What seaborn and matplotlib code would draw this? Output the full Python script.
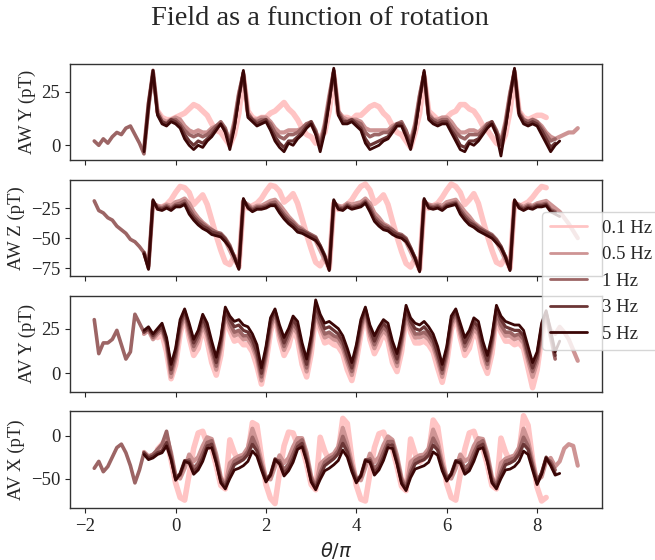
import matplotlib.pyplot as plt
import numpy as np
import pandas as pd
import seaborn as sns

STEP = 0.1
FREQS = ['0.1 Hz', '0.5 Hz', '1 Hz', '3 Hz', '5 Hz']
# first theta/pi of every recording, the rest follows every STEP
STARTS = {'0.1 Hz': -0.4, '0.5 Hz': -0.7, '1 Hz': -1.8, '3 Hz': -0.7, '5 Hz': -0.7}

# --- AW Y (pT) ---
awy_01 = [16, 13, 12, 12, 13, 14, 15, 17, 19, 18, 16, 14, 10, 7, 6, 3, 0, 5, 15,
          32, 16, 13, 12, 13, 13, 15, 16, 18, 20, 17, 15, 12, 8, 5, 4, 1, 4, 6, 16,
          33, 15, 13, 13, 12, 14, 14, 16, 18, 19, 18, 15, 13, 9, 6, 5, 2, -1, 6, 15,
          32, 16, 14, 12, 12, 13, 15, 16, 19, 19, 17, 16, 13, 9, 7, 4, 1, 0, 5, 16,
          33, 16, 13, 12, 13, 14, 14, 13]
awy_05 = [-2, 19,
          34, 16, 12, 11, 12, 13, 12, 9, 7, 6, 7, 6, 6, 8, 9, 10, 7, 2, 11, 24,
          33, 15, 12, 12, 13, 13, 11, 8, 6, 6, 7, 7, 7, 8, 10, 10, 6, 1, 10, 23,
          34, 16, 13, 12, 12, 12, 11, 8, 7, 7, 7, 7, 7, 9, 10, 10, 6, 2, 10, 23,
          33, 15, 12, 12, 13, 13, 11, 8, 6, 6, 7, 7, 6, 8, 10, 10, 6, 2, 11, 24,
          34, 16, 12, 11, 12, 11, 9, 6, 4, 3, 4, 5, 6, 6, 8]
awy_1 = [2, 0, 3, 1, 4, 6, 5, 8, 9, 5, 1, -4, 17,
         35, 15, 11, 10, 12, 12, 10, 7, 5, 4, 5, 4, 5, 7, 9, 11, 8, 1, 10, 24,
         34, 15, 12, 11, 12, 12, 10, 6, 4, 3, 5, 5, 6, 8, 10, 11, 7, 0, 9, 22,
         35, 16, 12, 11, 12, 11, 10, 6, 4, 5, 5, 6, 6, 8, 10, 11, 7, 1, 9, 23,
         34, 14, 12, 11, 12, 12, 9, 6, 4, 3, 5, 5, 5, 7, 10, 11, 7, 1, 10, 24,
         35, 15, 12, 11, 12, 11, 8, 5, 2, 3]
awy_3 = [-2, 20,
         34, 15, 11, 10, 12, 11, 9, 5, 2, 0, 2, 1, 3, 5, 8, 10, 7, 0, 9, 23,
         34, 14, 12, 10, 11, 12, 8, 4, 1, -1, 2, 2, 4, 6, 9, 11, 6, -1, 8, 21,
         35, 15, 11, 11, 12, 10, 8, 3, 0, 1, 2, 3, 4, 7, 10, 10, 5, 0, 8, 22,
         34, 13, 11, 10, 11, 11, 7, 4, 0, -1, 2, 2, 3, 6, 9, 11, 6, 0, 9, 23,
         35, 15, 11, 10, 11, 10, 7, 3, -1, 1]
awy_5 = [-3, 18,
         35, 14, 10, 9, 11, 10, 8, 3, 0, -2, 0, -1, 2, 4, 7, 10, 6, -2, 8, 22,
         35, 13, 11, 9, 10, 11, 7, 2, -1, -3, 1, 0, 3, 5, 8, 10, 5, -3, 6, 20,
         36, 14, 10, 10, 11, 9, 7, 1, -2, -1, 0, 2, 3, 6, 9, 9, 4, -2, 7, 21,
         35, 12, 10, 9, 10, 10, 6, 2, -2, -3, 1, 0, 2, 5, 8, 10, 5, -5, 8, 22,
         36, 14, 10, 9, 10, 9, 5, 1, -3, 0, 2]

# --- AW Z (pT) ---
awz_01 = [-25, -24, -22, -18, -12, -7, -8, -12, -22, -18, -14, -22, -35, -48, -60, -70, -72, -65, -74,
          -20, -25, -23, -21, -17, -11, -6, -7, -11, -20, -17, -13, -21, -34, -47, -59, -70, -73, -66, -75,
          -21, -26, -24, -22, -18, -12, -7, -5, -10, -21, -18, -14, -22, -36, -49, -61, -71, -74, -67, -76,
          -20, -25, -23, -21, -16, -10, -5, -7, -12, -22, -18, -13, -21, -35, -48, -60, -70, -72, -66, -75,
          -20, -24, -22, -20, -16, -11, -7, -8]
awz_05 = [-62, -73,
          -21, -23, -24, -22, -23, -20, -19, -17, -21, -28, -33, -37, -40, -43, -46, -48, -52, -60, -68, -73,
          -20, -22, -25, -23, -23, -21, -19, -18, -22, -27, -32, -36, -40, -42, -46, -48, -52, -60, -68, -74,
          -21, -23, -24, -21, -22, -21, -20, -17, -21, -29, -33, -38, -40, -43, -47, -49, -53, -61, -69, -75,
          -20, -22, -23, -22, -23, -20, -19, -18, -23, -28, -32, -37, -40, -43, -46, -48, -53, -60, -68, -74,
          -21, -22, -24, -22, -23, -21, -20, -19, -22, -25, -28, -33, -38, -44, -50]
awz_1 = [-19, -27, -29, -33, -35, -40, -43, -46, -51, -53, -57, -62, -75,
         -20, -24, -25, -23, -25, -22, -21, -19, -25, -31, -35, -38, -41, -43, -45, -46, -50, -56, -66, -74,
         -19, -23, -26, -24, -24, -23, -21, -20, -25, -30, -34, -37, -41, -43, -45, -47, -49, -57, -66, -75,
         -20, -24, -25, -22, -24, -23, -22, -19, -24, -32, -36, -39, -41, -43, -46, -47, -50, -58, -67, -76,
         -19, -23, -24, -23, -25, -22, -21, -20, -26, -31, -35, -38, -41, -43, -45, -47, -51, -57, -66, -75,
         -20, -23, -25, -23, -24, -22, -22, -21, -26, -28]
awz_3 = [-62, -74,
         -19, -25, -26, -24, -26, -23, -23, -21, -28, -33, -37, -40, -42, -45, -46, -47, -51, -57, -65, -75,
         -18, -24, -27, -25, -25, -24, -22, -22, -27, -32, -36, -39, -43, -44, -46, -48, -50, -56, -64, -76,
         -19, -25, -26, -23, -25, -24, -23, -20, -26, -34, -38, -41, -42, -45, -47, -48, -51, -58, -66, -77,
         -18, -24, -25, -24, -26, -23, -22, -21, -28, -33, -37, -39, -42, -44, -46, -48, -52, -57, -65, -76,
         -19, -24, -26, -24, -25, -23, -23, -22, -27, -29]
awz_5 = [-63, -76,
         -18, -26, -27, -25, -27, -24, -24, -22, -30, -35, -39, -42, -44, -47, -48, -49, -53, -58, -66, -76,
         -17, -25, -28, -26, -26, -25, -23, -23, -29, -34, -38, -41, -45, -46, -48, -50, -52, -57, -65, -77,
         -18, -26, -27, -24, -26, -25, -24, -21, -28, -36, -40, -43, -44, -47, -49, -50, -53, -59, -67, -78,
         -17, -25, -26, -25, -27, -24, -23, -22, -30, -35, -39, -41, -44, -46, -48, -50, -54, -58, -66, -77,
         -18, -25, -27, -25, -26, -24, -24, -23, -28, -30, -32]

# --- AV Y (pT) ---
avy_01 = [20, 22, 12,
          -3, 5, 22, 33, 20, 10, 14, 26, 18, 6, -1, 10, 32, 24, 18, 19, 16, 16, 12, 4,
          -6, 6, 23, 33, 19, 10, 15, 25, 19, 5, -2, 11, 33, 24, 17, 18, 16, 15, 11, 2,
          -4, 7, 22, 34, 19, 11, 16, 23, 18, 6, 1, 12, 32, 23, 17, 17, 18, 16, 12, 3,
          -5, 6, 24, 33, 20, 10, 14, 24, 19, 6, 0, 11, 32, 23, 18, 18, 16, 17, 14, 3,
          -8, 2, 20, 31]
avy_05 = [22, 24, 19, 22, 24, 16,
          -2, 8, 24, 33, 22, 13, 18, 27, 21, 11, 2, 14, 33, 26, 21, 22, 19, 19, 15, 8,
          -4, 9, 25, 33, 21, 13, 19, 26, 22, 10, 1, 15, 34, 26, 20, 21, 19, 18, 14, 6,
          -1, 10, 24, 34, 21, 14, 20, 24, 21, 11, 4, 16, 32, 25, 20, 20, 21, 19, 15, 7,
          -2, 9, 26, 33, 22, 13, 18, 25, 22, 11, 3, 15, 32, 25, 21, 21, 19, 20, 17, 7,
          -2, 6, 22, 32, 24, 22, 26, 23, 19, 13, 7]
avy_1 = [30, 11, 17, 17, 19, 24, 16, 8, 12, 33, 28, 23, 25, 20, 23, 25, 17,
         0, 10, 26, 34, 24, 15, 20, 29, 23, 13, 4, 16, 34, 28, 23, 24, 21, 21, 17, 10,
         -2, 11, 27, 34, 23, 15, 21, 28, 24, 12, 3, 17, 35, 28, 22, 23, 21, 20, 16, 8,
         1, 12, 26, 35, 23, 16, 22, 26, 23, 13, 6, 18, 34, 27, 22, 22, 23, 21, 17, 9,
         0, 11, 28, 34, 24, 15, 20, 27, 24, 13, 5, 17, 34, 27, 23, 23, 21, 22, 19, 9,
         1, 8, 24, 33, 20, 8]
avy_3 = [23, 25, 21, 24, 26, 18,
         2, 12, 28, 35, 26, 17, 22, 31, 25, 15, 6, 18, 35, 30, 26, 27, 24, 23, 19, 12,
         0, 13, 29, 35, 25, 17, 23, 30, 26, 14, 5, 19, 38, 31, 25, 26, 24, 22, 18, 10,
         3, 14, 28, 36, 25, 18, 24, 28, 25, 15, 8, 20, 36, 29, 25, 24, 26, 23, 19, 11,
         2, 13, 30, 35, 26, 17, 22, 29, 26, 15, 7, 19, 36, 30, 26, 25, 24, 24, 21, 11,
         3, 10, 26, 34, 22, 10]
avy_5 = [24, 26, 22, 25, 28, 20,
         5, 14, 30, 36, 28, 19, 24, 33, 28, 18, 9, 20, 37, 32, 29, 30, 27, 26, 22, 16,
         3, 15, 31, 36, 27, 20, 25, 32, 29, 17, 8, 21, 41, 33, 28, 29, 27, 25, 21, 14,
         6, 16, 30, 37, 27, 21, 26, 30, 28, 18, 11, 22, 38, 31, 28, 27, 29, 26, 22, 15,
         5, 15, 32, 36, 28, 20, 24, 31, 29, 18, 10, 21, 38, 32, 29, 28, 27, 27, 24, 15,
         6, 12, 28, 35, 24, 12, 18]

# --- AV X (pT) ---
avx_01 = [-16, -10, -5, -28,
          -55, -72, -75, -45, -15, 3, 5, -10, -15, -35, -58, -62, -5, -20, -30, -25, -20, 15, 12, -25,
          -57, -73, -79, -43, -12, 4, 3, -11, -14, -33, -57, -63, -2, -18, -29, -24, -19, 20, 14, -27,
          -58, -74, -76, -44, -14, 2, 4, -9, -16, -36, -59, -64, -4, -21, -31, -26, -21, 18, 10, -26,
          -56, -72, -75, -45, -16, 3, 5, -10, -15, -34, -58, -62, -3, -19, -30, -25, -20, 23, 12, -28,
          -60, -76, -72]
avx_05 = [-19, -24, -22, -18, -14, 0, -20,
          -47, -50, -38, -22, -30, -25, -12, -2, -4, -22, -48, -58, -32, -27, -24, -22, -14, 8, -8, -30,
          -49, -51, -36, -23, -32, -26, -13, -3, -3, -20, -47, -59, -33, -28, -24, -21, -13, 9, -9, -32,
          -50, -52, -37, -21, -31, -25, -11, -1, -5, -23, -49, -60, -31, -26, -23, -22, -15, 7, -7, -31,
          -48, -50, -38, -22, -30, -26, -12, -3, -4, -21, -48, -58, -32, -27, -25, -23, -14, 8, -6, -30,
          -52, -48, -30, -26, -36, -30, -15, -10, -12, -35]
avx_1 = [-38, -30, -42, -36, -25, -14, -10, -20, -35, -55, -40, -20, -25, -22, -16, -10, 5, -22,
         -48, -46, -32, -28, -38, -32, -20, -8, -6, -26, -50, -58, -42, -30, -27, -25, -18, -2, -14, -34,
         -50, -47, -30, -29, -40, -33, -21, -9, -5, -24, -49, -59, -43, -31, -27, -24, -17, -1, -15, -36,
         -51, -48, -31, -27, -39, -32, -19, -7, -7, -27, -51, -60, -41, -29, -26, -25, -19, -3, -13, -35,
         -49, -46, -32, -28, -38, -33, -20, -9, -6, -25, -50, -58, -42, -30, -28, -26, -18, -2, -12, -34,
         -53, -44, -27, -30, -40]
avx_3 = [-20, -26, -24, -20, -18, -8, -26,
         -50, -44, -29, -30, -42, -37, -26, -12, -10, -30, -53, -60, -46, -34, -31, -28, -22, -10, -18, -36,
         -52, -45, -27, -31, -44, -38, -27, -13, -9, -28, -52, -61, -47, -35, -31, -27, -21, -9, -19, -38,
         -53, -46, -28, -29, -43, -37, -25, -11, -11, -31, -54, -62, -45, -33, -30, -28, -23, -11, -17, -37,
         -51, -44, -29, -30, -42, -38, -26, -13, -10, -29, -53, -60, -46, -34, -32, -29, -22, -10, -16, -36,
         -55, -43, -25, -33, -44]
avx_5 = [-22, -28, -26, -22, -20, -12, -28,
         -52, -45, -30, -32, -45, -40, -30, -15, -14, -32, -55, -62, -50, -40, -38, -35, -30, -18, -24, -40,
         -54, -46, -28, -33, -47, -41, -31, -16, -13, -30, -54, -63, -51, -41, -38, -34, -29, -17, -25, -42,
         -55, -47, -29, -31, -46, -40, -29, -14, -15, -33, -56, -64, -49, -39, -37, -35, -31, -19, -23, -41,
         -53, -45, -30, -32, -45, -41, -30, -16, -14, -31, -55, -62, -50, -40, -39, -36, -30, -18, -22, -40,
         -57, -45, -26, -35, -46, -44]

PANELS = [
    ('AW Y (pT)', [awy_01, awy_05, awy_1, awy_3, awy_5], [0, 25]),
    ('AW Z (pT)', [awz_01, awz_05, awz_1, awz_3, awz_5], [-75, -50, -25]),
    ('AV Y (pT)', [avy_01, avy_05, avy_1, avy_3, avy_5], [0, 25]),
    ('AV X (pT)', [avx_01, avx_05, avx_1, avx_3, avx_5], [-50, 0]),
]


def to_frame(series):
    parts = []
    for freq, vals in zip(FREQS, series):
        theta = STARTS[freq] + STEP * np.arange(len(vals))
        parts.append(pd.DataFrame({'theta': theta, 'field': vals, 'freq': freq}))
    return pd.concat(parts, ignore_index=True)


sns.set_style('ticks')
plt.rcParams['font.family'] = ['Liberation Serif', 'DejaVu Serif']
plt.rcParams['mathtext.fontset'] = 'dejavusans'
plt.rcParams['axes.edgecolor'] = '#333333'
plt.rcParams['axes.linewidth'] = 1.0

palette = sns.blend_palette(['#ffc4c4', '#3a0606'], len(FREQS))
widths = [4.0, 3.0, 2.6, 2.3, 2.0]

fig, axes = plt.subplots(4, 1, figsize=(6.55, 5.6), dpi=100, sharex=True)
fig.subplots_adjust(left=0.107, right=0.919, top=0.886, bottom=0.093, hspace=0.2)

for ax, (label, series, yticks) in zip(axes, PANELS):
    df = to_frame(series)
    for freq, color, lw in zip(FREQS, palette, widths):
        sns.lineplot(data=df[df['freq'] == freq], x='theta', y='field', ax=ax,
                     color=color, lw=lw, estimator=None, sort=False, legend=False)
    ax.set_ylabel(label, fontsize=13.5)
    ax.set_xlabel('')
    ax.set_yticks(yticks)
    ax.tick_params(labelsize=13.5)
    for side in ('top', 'right'):
        ax.spines[side].set_visible(True)

axes[-1].set_xticks([-2, 0, 2, 4, 6, 8])
axes[-1].set_xlabel(r'$\theta/\pi$', fontsize=14)

leg = fig.legend(handles=axes[0].get_lines()[:len(FREQS)], labels=FREQS,
                 loc='center left', bbox_to_anchor=(0.8275, 0.498),
                 borderaxespad=0, fontsize=13.5, framealpha=0.8)
for line in leg.get_lines():
    line.set_linewidth(2)

fig.suptitle('Field as a function of rotation', fontsize=20.5, x=0.488, y=0.99, va='top')

plt.savefig('out.png', dpi=100)
